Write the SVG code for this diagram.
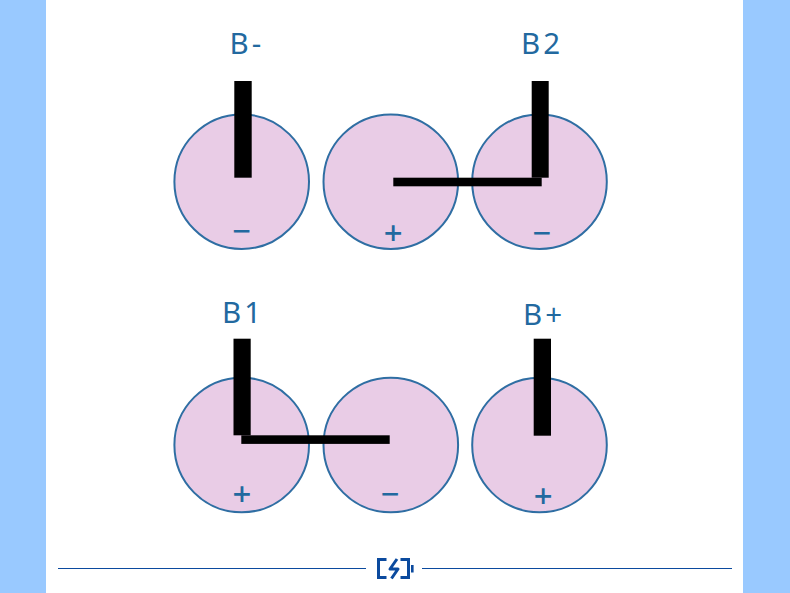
<svg xmlns="http://www.w3.org/2000/svg" width="790" height="593" viewBox="0 0 790 593">
<style>
.cell{fill:#e9cce6;stroke:#2f6ea3;stroke-width:2}
.bar{fill:#000}
.lbl{font-family:"Noto Sans","Open Sans",sans-serif;font-size:29.5px;fill:#22699f;letter-spacing:3px}
.sign{font-family:"Noto Sans","Open Sans",sans-serif;font-size:33px;fill:#22699f;text-anchor:middle}
.rule{stroke:#0b4a9e;stroke-width:1;fill:none}
.icon{stroke:#0b4a9e;stroke-width:3;fill:none}
</style>
<rect width="790" height="593" fill="#fff"/>
<rect x="0" y="0" width="46" height="593" fill="#99c9ff"/>
<rect x="743" y="0" width="47" height="593" fill="#99c9ff"/>
<g id="cell-top-1"><circle class="cell" cx="241.7" cy="181.7" r="67.3"/><text class="sign" x="241.7" y="243">−</text></g>
<g id="cell-top-2"><circle class="cell" cx="390.8" cy="181.7" r="67.3"/><text class="sign" x="393.3" y="244.7" font-weight="500">+</text></g>
<g id="cell-top-3"><circle class="cell" cx="539.5" cy="181.7" r="67.3"/><text class="sign" x="542" y="244.7">−</text></g>
<g id="cell-bottom-1"><circle class="cell" cx="241.7" cy="445" r="67.3"/><text class="sign" x="242" y="505.7" font-weight="500">+</text></g>
<g id="cell-bottom-2"><circle class="cell" cx="390.8" cy="445" r="67.3"/><text class="sign" x="390.3" y="506.4">−</text></g>
<g id="cell-bottom-3"><circle class="cell" cx="539.5" cy="445" r="67.3"/><text class="sign" x="543.3" y="508" font-weight="500">+</text></g>
<g id="connectors">
<rect class="bar" x="234.3" y="81" width="17.4" height="96.7"/>
<rect class="bar" x="531.7" y="81" width="17" height="96.7"/>
<rect class="bar" x="393.3" y="177.7" width="148.4" height="8.6"/>
<rect class="bar" x="233.5" y="338.7" width="17.2" height="96.6"/>
<rect class="bar" x="241.3" y="435.3" width="148.4" height="8.6"/>
<rect class="bar" x="533.7" y="338.7" width="17.3" height="97"/>
</g>
<g id="label-b-minus"><text class="lbl" x="229.5" y="54">B-</text></g>
<g id="label-b2"><text class="lbl" x="521" y="54">B2</text></g>
<g id="label-b1"><text class="lbl" x="222" y="323">B1</text></g>
<g id="label-b-plus"><text class="lbl" x="523" y="325">B+</text></g>
<g id="footer">
<line class="rule" x1="58" y1="568.5" x2="366" y2="568.5"/>
<line class="rule" x1="422" y1="568.5" x2="732" y2="568.5"/>
<path class="icon" d="M386.5 559.5H378.5V577.5H386.5M400.5 559.5H408.5V577.5H400.5"/>
<path class="icon" d="M397 559L390 569H398L391.5 578.5" stroke-linejoin="round"/>
<rect x="411" y="565" width="2.6" height="7.5" fill="#0b4a9e"/>
</g>
</svg>
